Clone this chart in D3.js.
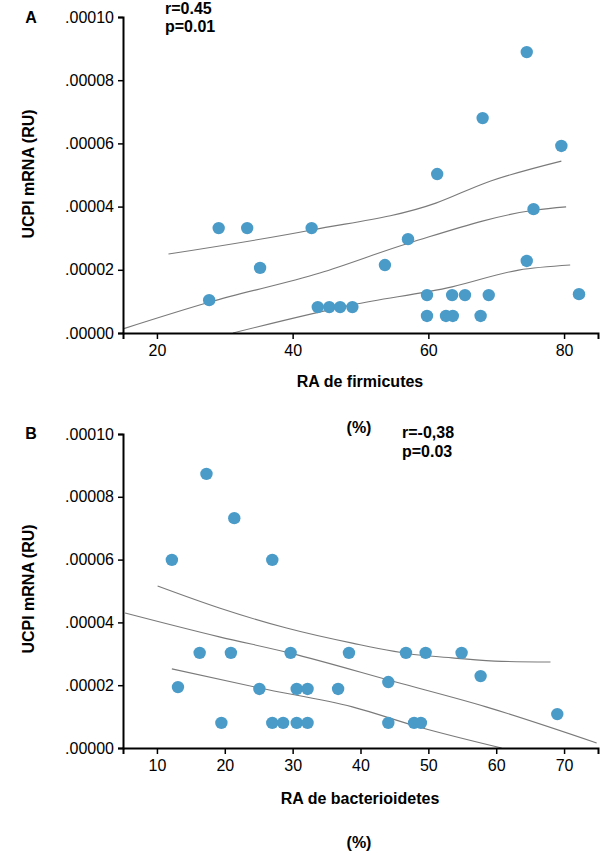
<!DOCTYPE html>
<html>
<head>
<meta charset="utf-8">
<script src="https://cdn.jsdelivr.net/npm/d3@7"></script>
<style>
  html, body { margin: 0; padding: 0; background: #fff; }
  svg { display: block; font-family: "Liberation Sans", Arial, Helvetica, sans-serif; }
</style>
</head>
<body>
<svg id="chart" width="600" height="852"></svg>
<script>
// ---------- DATA ----------
// Panel A: RA de firmicutes (%) vs UCP1 mRNA (RU)
const firmX = [74.5, 68.0, 79.6, 61.3, 29.1, 33.3, 35.2, 27.7, 42.8, 57.0, 75.5, 53.6, 74.5,
               43.7, 45.4, 47.0, 48.8, 59.8, 63.5, 65.4, 68.9, 82.2, 59.8, 62.6, 63.6, 67.7];
const firmY = [88.9, 68.0, 59.2, 50.3, 33.2, 33.2, 20.6, 10.4, 33.2, 29.7, 39.2, 21.5, 22.8,
               8.2, 8.2, 8.2, 8.2, 12.0, 12.0, 12.0, 12.0, 12.3, 5.4, 5.4, 5.4, 5.4].map(v => v * 1e-6);
// Fit line and confidence bands
const firmFitX   = [15, 27.8, 44.0, 57.2, 75.8, 80.3];
const firmFitY   = [1.3, 9.8, 19.0, 28.5, 38.9, 39.9].map(v => v * 1e-6);
const firmUpperX = [21.7, 42.8, 61.1, 68.4, 79.6];
const firmUpperY = [25.0, 32.6, 41.1, 47.5, 54.4].map(v => v * 1e-6);
const firmLowerX = [31.2, 48.8, 63.5, 73.3, 80.9];
const firmLowerY = [0.0, 8.9, 14.6, 19.9, 21.5].map(v => v * 1e-6);

// Panel B: RA de bacterioidetes (%) vs UCP1 mRNA (RU)
const bactX = [17.3, 21.4, 12.2, 27.0, 16.3, 20.9, 29.7, 38.3, 46.7, 49.6, 54.9, 57.7, 44.1, 13.1,
               25.1, 30.6, 32.2, 36.7, 69.0, 19.5, 27.0, 28.6, 30.6, 32.2, 44.1, 47.9, 48.9];
const bactY = [87.3, 73.2, 59.9, 59.9, 30.3, 30.3, 30.3, 30.3, 30.3, 30.3, 30.3, 22.9, 21.0, 19.4,
               18.8, 18.8, 18.8, 18.8, 10.8, 8.0, 8.0, 8.0, 8.0, 8.0, 8.0, 8.0, 8.0].map(v => v * 1e-6);
const bactFitX   = [5.3, 19.2, 29.5, 45.2, 58.5, 74.8];
const bactFitY   = [43.0, 35.4, 30.3, 21.0, 13.1, 1.6].map(v => v * 1e-6);
const bactUpperX = [10.1, 19.2, 29.1, 38.8, 48.6, 53.5, 60.8, 68.0];
const bactUpperY = [51.6, 44.6, 38.2, 33.4, 29.6, 28.7, 27.6, 27.4].map(v => v * 1e-6);
const bactLowerX = [12.2, 25.1, 38.8, 48.6, 60.8];
const bactLowerY = [25.2, 19.1, 13.1, 6.7, 0.0].map(v => v * 1e-6);

// Ticks
const yTicks = [0, 0.00002, 0.00004, 0.00006, 0.00008, 0.00010];
const yTickLabels = [".00000", ".00002", ".00004", ".00006", ".00008", ".00010"];
const firmTicks = [20, 40, 60, 80];
const bactTicks = [10, 20, 30, 40, 50, 60, 70];

// ---------- DRAW ----------
const svg = d3.select("#chart");
const dotColor = "#4a9bc8";
const lineColor = "#7a7a7a";

function panel(cfg) {
  const x = d3.scaleLinear().domain(cfg.xDomain).range([123, 598]);
  const y = d3.scaleLinear().domain([0, 0.0001]).range([cfg.bottom, cfg.top]);
  const g = svg.append("g");

  // lines
  const line = d3.line().x(d => x(d[0])).y(d => y(d[1])).curve(d3.curveMonotoneX);
  cfg.lines.forEach(([lx, ly]) => {
    g.append("path")
      .datum(d3.zip(lx, ly))
      .attr("d", line)
      .attr("fill", "none")
      .attr("stroke", lineColor)
      .attr("stroke-width", 1.1);
  });

  // points
  g.selectAll("circle.pt")
    .data(d3.zip(cfg.px, cfg.py))
    .join("circle")
    .attr("class", "pt")
    .attr("cx", d => x(d[0]))
    .attr("cy", d => y(d[1]))
    .attr("r", 6.2)
    .attr("fill", dotColor);

  // axes
  const yAxis = d3.axisLeft(y).tickValues(yTicks)
    .tickFormat((d, i) => yTickLabels[i]).tickSize(5).tickSizeOuter(5).tickPadding(4);
  const xAxis = d3.axisBottom(x).tickValues(cfg.xTicks)
    .tickFormat(d3.format("d")).tickSize(6).tickSizeOuter(6).tickPadding(6);

  const ya = g.append("g").attr("transform", "translate(123,0)").call(yAxis);
  const xa = g.append("g").attr("transform", `translate(0,${cfg.bottom})`).call(xAxis);
  [ya, xa].forEach(a => {
    a.selectAll("path.domain").attr("stroke", "#000").attr("stroke-width", 2);
    a.selectAll(".tick line").attr("stroke", "#000").attr("stroke-width", 1.5);
    a.selectAll(".tick text").attr("fill", "#000").style("font-size", "16px")
      .style("font-family", "'Liberation Sans', Arial, sans-serif");
  });

  // y label
  g.append("text")
    .attr("transform", `translate(34,${cfg.yLabelY}) rotate(-90)`)
    .attr("text-anchor", "middle")
    .style("font-size", "16px").style("font-weight", "bold")
    .text("UCPI mRNA (RU)");

  // panel letter
  g.append("text").attr("x", 31).attr("y", cfg.letterY)
    .attr("text-anchor", "middle")
    .style("font-size", "16px").style("font-weight", "bold")
    .text(cfg.letter);

  // x label
  g.append("text").attr("x", 360).attr("y", cfg.xLabelY)
    .attr("text-anchor", "middle")
    .style("font-size", "16px").style("font-weight", "bold")
    .text(cfg.xLabel);
  g.append("text").attr("x", 359).attr("y", cfg.pctY)
    .attr("text-anchor", "middle")
    .style("font-size", "16px").style("font-weight", "bold")
    .text("(%)");

  // stats
  g.append("text").attr("x", cfg.statX).attr("y", cfg.rY)
    .style("font-size", "16px").style("font-weight", "bold").text(cfg.r);
  g.append("text").attr("x", cfg.statX).attr("y", cfg.pY)
    .style("font-size", "16px").style("font-weight", "bold").text(cfg.p);
}

panel({
  xDomain: [15, 85], top: 17, bottom: 333, xTicks: firmTicks,
  px: firmX, py: firmY,
  lines: [[firmFitX, firmFitY], [firmUpperX, firmUpperY], [firmLowerX, firmLowerY]],
  yLabelY: 174, letter: "A", letterY: 23,
  xLabel: "RA de firmicutes", xLabelY: 387, pctY: 433,
  statX: 165, r: "r=0.45", rY: 14, p: "p=0.01", pY: 32
});

panel({
  xDomain: [5, 75], top: 434, bottom: 748, xTicks: bactTicks,
  px: bactX, py: bactY,
  lines: [[bactFitX, bactFitY], [bactUpperX, bactUpperY], [bactLowerX, bactLowerY]],
  yLabelY: 589, letter: "B", letterY: 439,
  xLabel: "RA de bacterioidetes", xLabelY: 804, pctY: 848,
  statX: 402, r: "r=-0,38", rY: 438, p: "p=0.03", pY: 457
});
</script>
</body>
</html>
